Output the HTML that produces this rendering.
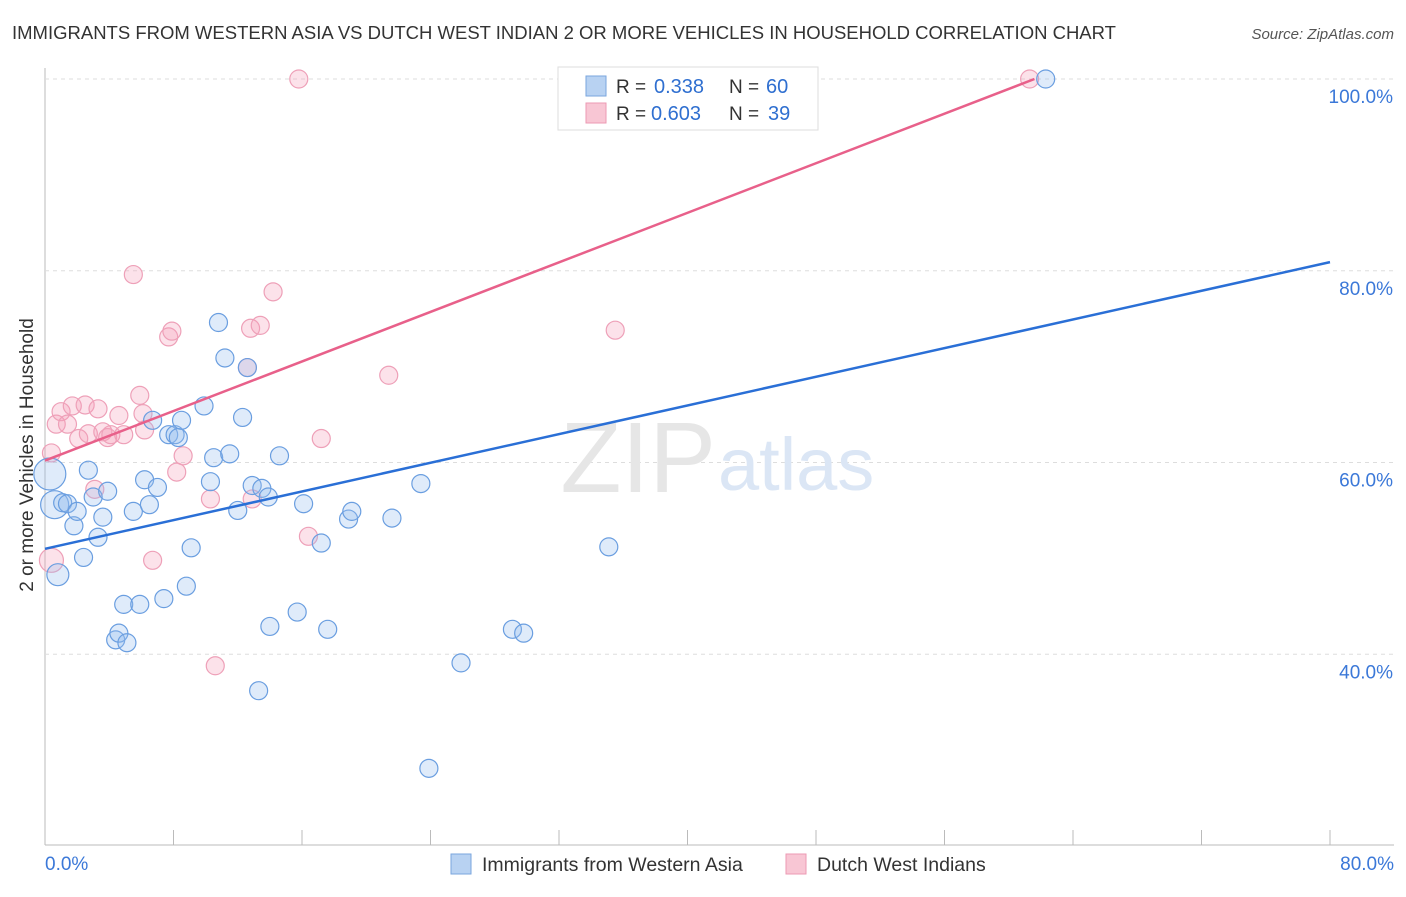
<!DOCTYPE html>
<html><head><meta charset="utf-8"><style>
body{margin:0;background:#fff;font-family:"Liberation Sans",sans-serif;}
svg text{font-family:"Liberation Sans",sans-serif;}
</style></head><body>
<svg width="1406" height="892">
<text x="12" y="39" font-size="18.5" fill="#333">IMMIGRANTS FROM WESTERN ASIA VS DUTCH WEST INDIAN 2 OR MORE VEHICLES IN HOUSEHOLD CORRELATION CHART</text>
<text x="1394" y="39" font-size="15" fill="#555" font-style="italic" text-anchor="end">Source: ZipAtlas.com</text>
<g id="grid"></g>
<text x="716" y="492" font-size="100" fill="#e6e6e6" text-anchor="end" font-family="Liberation Serif">ZIP</text>
<text x="718" y="490" font-size="74" fill="#dbe6f5">atlas</text>
<g id="pts"></g>
<g id="lines"></g>
<text x="33" y="455" font-size="19" fill="#333" transform="rotate(-90 33 455)" text-anchor="middle">2 or more Vehicles in Household</text>
<g>
<rect x="558" y="67" width="260" height="63" fill="#fff" stroke="#ddd"/>
<rect x="586" y="76" width="20" height="20" fill="#b8d2f2" stroke="#7aa6de"/>
<rect x="586" y="103" width="20" height="20" fill="#f8c6d4" stroke="#ec9ab3"/>
<text x="616" y="93" font-size="19" fill="#333">R =</text>
<text x="654" y="93" font-size="20" fill="#2f6fd0">0.338</text>
<text x="729" y="93" font-size="19" fill="#333">N =</text>
<text x="766" y="93" font-size="20" fill="#2f6fd0">60</text>
<text x="616" y="120" font-size="19" fill="#333">R =</text>
<text x="651" y="120" font-size="20" fill="#2f6fd0">0.603</text>
<text x="729" y="120" font-size="19" fill="#333">N =</text>
<text x="768" y="120" font-size="20" fill="#2f6fd0">39</text>
</g>
<g>
<rect x="451" y="854" width="20" height="20" fill="#b8d2f2" stroke="#7aa6de"/>
<text x="482" y="871" font-size="19.5" fill="#333">Immigrants from Western Asia</text>
<rect x="786" y="854" width="20" height="20" fill="#f8c6d4" stroke="#ec9ab3"/>
<text x="817" y="871" font-size="19.5" fill="#333">Dutch West Indians</text>
</g>
</svg>
<script>
const blueX=[0.3,0.6,0.8,1.1,1.4,1.8,2.0,2.4,2.7,3.0,3.3,3.6,3.9,4.4,4.6,5.1,4.9,5.9,5.5,6.2,6.5,6.7,7.0,7.4,7.7,8.1,8.3,8.5,8.8,9.1,9.9,10.3,10.5,10.8,11.2,11.5,12.0,12.3,12.6,12.9,13.3,13.5,13.9,14.0,14.6,15.7,16.1,17.2,17.6,18.9,19.1,21.6,23.4,23.9,25.9,29.1,29.8,35.1,42.3,62.3];
const blueY=[58.8,55.6,48.3,55.8,55.7,53.4,54.9,50.1,59.2,56.4,52.2,54.3,57.0,41.5,42.2,41.2,45.2,45.2,54.9,58.2,55.6,64.4,57.4,45.8,62.9,62.9,62.6,64.4,47.1,51.1,65.9,58.0,60.5,74.6,70.9,60.9,55.0,64.7,69.9,57.6,36.2,57.3,56.4,42.9,60.7,44.4,55.7,51.6,42.6,54.1,54.9,54.2,57.8,28.1,39.1,42.6,42.2,51.2,100.0,100.0];
const pinkX=[0.4,0.4,0.7,1.0,1.4,1.7,2.1,2.5,2.7,3.1,3.3,3.6,3.9,4.1,4.6,4.9,5.5,5.9,6.1,6.2,6.7,7.7,7.9,8.2,8.6,10.3,10.6,12.6,12.8,12.9,13.4,14.2,15.8,16.4,17.2,21.4,35.5,61.3];
const pinkY=[49.8,61.0,64.0,65.3,64.0,65.9,62.5,66.0,63.0,57.2,65.6,63.2,62.6,62.9,64.9,62.9,79.6,67.0,65.1,63.4,49.8,73.1,73.7,59.0,60.7,56.2,38.8,69.9,74.0,56.2,74.3,77.8,100.0,52.3,62.5,69.1,73.8,100.0];
const blueTrend=[[0,51.0],[80,80.9]];
const pinkTrend=[[0,60.2],[61.6,100.0]];
const xTicks=[8,16,24,32,40,48,56,64,72,80];
const yTicks=[40,60,80,100];
const sx=v=>45+v/80*1285, sy=v=>79+(100-v)/20*191.75;
const NS="http://www.w3.org/2000/svg";
function mk(t,a,p){const e=document.createElementNS(NS,t);for(const k in a)e.setAttribute(k,a[k]);p.appendChild(e);return e;}
const g=document.getElementById('grid');
const ax=mk('line',{x1:45,y1:68,x2:45,y2:845,stroke:'#bbb'},g);


const bx=mk('line',{x1:45,y1:845,x2:1394,y2:845,stroke:'#bbb'},g);


yTicks.forEach(v=>{
 const l=mk('line',{x1:45,y1:sy(v),x2:1394,y2:sy(v),stroke:'#ddd','stroke-dasharray':'4,4'},g);
 
 
 const t=mk('text',{x:1393,y:sy(v)+24,'font-size':19,fill:'#3b78d8','text-anchor':'end'},g);
 t.textContent=v.toFixed(1)+'%';
 
 
});
xTicks.forEach(v=>{
 const l=mk('line',{x1:sx(v),y1:830,x2:sx(v),y2:845,stroke:'#bbb'},g);
 
 
});
[[0,'start',45],[80,'end',1394]].forEach(([v,a,x])=>{
 const t=mk('text',{x:x,y:870,'font-size':19,fill:'#3b78d8','text-anchor':a},g);
 t.textContent=v.toFixed(1)+'%';
 
 
});
const p=document.getElementById('pts');
pinkX.forEach((x,i)=>{
 const c=mk('circle',{cx:sx(x),cy:sy(pinkY[i]),r:i==0?12:9,fill:'rgba(244,160,186,0.3)',stroke:'#eea0b8','stroke-width':1.2},p);
 
 
});
blueX.forEach((x,i)=>{
 const c=mk('circle',{cx:sx(x),cy:sy(blueY[i]),r:i==0?16:(i==1?14:(i==2?11:9)),fill:'rgba(150,190,240,0.3)',stroke:'#6a9ee0','stroke-width':1.2},p);
 
 
});
const L=document.getElementById('lines');
const b=mk('line',{x1:sx(blueTrend[0][0]),y1:sy(blueTrend[0][1]),x2:sx(blueTrend[1][0]),y2:sy(blueTrend[1][1]),stroke:'#2a6fd6','stroke-width':2.5},L);


const q=mk('line',{x1:sx(pinkTrend[0][0]),y1:sy(pinkTrend[0][1]),x2:sx(pinkTrend[1][0]),y2:sy(pinkTrend[1][1]),stroke:'#e8608a','stroke-width':2.5},L);


</script>
</body></html>
